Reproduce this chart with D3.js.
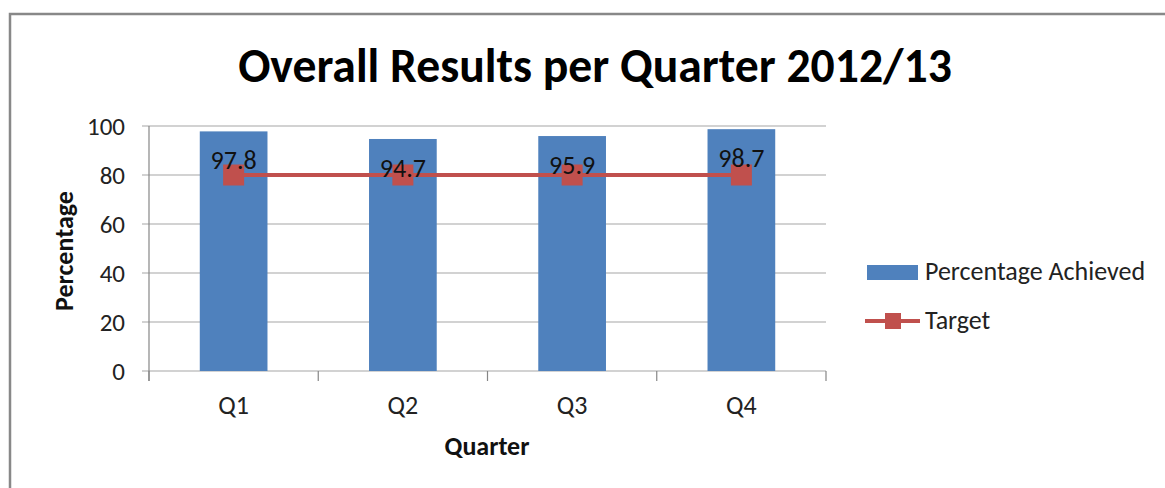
<!DOCTYPE html>
<html>
<head>
<meta charset="utf-8">
<script src="https://cdn.jsdelivr.net/npm/d3@7"></script>
<style>
  body { margin: 0; background: #fff; }
  text { font-family: Carlito, Calibri, "Open Sans", sans-serif; }
</style>
</head>
<body>
<div id="chart"></div>
<script>
var quarters = ["Q1", "Q2", "Q3", "Q4"];
var achieved = [97.8, 94.7, 95.9, 98.7];     // Percentage Achieved
var target = [80, 80, 80, 80];               // Target
var yTicks = [0, 20, 40, 60, 80, 100];

var width = 1165, height = 488;
var blue = "#4f81bd", red = "#c0504d";

var svg = d3.select("#chart").append("svg")
    .attr("width", width)
    .attr("height", height);

// outer chart frame (runs off the right / bottom edge)
svg.append("rect")
    .attr("x", 10).attr("y", 14)
    .attr("width", 1200).attr("height", 520)
    .attr("fill", "#fff")
    .attr("stroke", "#888")
    .attr("stroke-width", 2.5);

var x = d3.scaleBand()
    .domain(quarters)
    .range([149, 826])
    .paddingInner(0.6)
    .paddingOuter(0.3);

var y = d3.scaleLinear()
    .domain([0, 100])
    .range([371, 126]);

// gridlines + y ticks
svg.append("g").selectAll("line")
    .data(yTicks)
    .enter()
    .append("line")
    .attr("x1", 142).attr("x2", 826)
    .attr("y1", function(d) { return y(d); })
    .attr("y2", function(d) { return y(d); })
    .attr("stroke", "#a6a6a6")
    .attr("stroke-width", 1.2);

svg.append("g").selectAll("text")
    .data(yTicks)
    .enter()
    .append("text")
    .attr("x", 125)
    .attr("y", function(d) { return y(d); })
    .attr("dy", "0.34em")
    .attr("text-anchor", "end")
    .attr("font-size", 25)
    .attr("fill", "#222")
    .text(function(d) { return d; });

// y axis line
svg.append("line")
    .attr("x1", 149).attr("x2", 149)
    .attr("y1", y(100)).attr("y2", 381)
    .attr("stroke", "#868686").attr("stroke-width", 1.2);

// x axis category boundary ticks
var bounds = quarters.map(function(q) { return x(q) - x.step() * x.paddingInner() / 2; });
bounds.push(826);
svg.append("g").selectAll("line")
    .data(bounds)
    .enter()
    .append("line")
    .attr("x1", function(d) { return d; })
    .attr("x2", function(d) { return d; })
    .attr("y1", y(0)).attr("y2", 381)
    .attr("stroke", "#868686").attr("stroke-width", 1.2);

// bars
svg.append("g").selectAll("rect")
    .data(achieved)
    .enter()
    .append("rect")
    .attr("x", function(d, i) { return x(quarters[i]); })
    .attr("y", function(d) { return y(d); })
    .attr("width", x.bandwidth())
    .attr("height", function(d) { return y(0) - y(d); })
    .attr("fill", blue);

// target line + markers
var cx = function(i) { return x(quarters[i]) + x.bandwidth() / 2; };
var line = d3.line()
    .x(function(d, i) { return cx(i); })
    .y(function(d) { return y(d); });

svg.append("path")
    .datum(target)
    .attr("d", line)
    .attr("fill", "none")
    .attr("stroke", red)
    .attr("stroke-width", 4);

svg.append("g").selectAll("rect")
    .data(target)
    .enter()
    .append("rect")
    .attr("x", function(d, i) { return cx(i) - 10.5; })
    .attr("y", function(d) { return y(d) - 10.5; })
    .attr("width", 21).attr("height", 21)
    .attr("fill", red);

// data labels (drawn on top)
svg.append("g").selectAll("text")
    .data(achieved)
    .enter()
    .append("text")
    .attr("x", function(d, i) { return cx(i); })
    .attr("y", function(d) { return y(d) + 38; })
    .attr("text-anchor", "middle")
    .attr("font-size", 26)
    .attr("fill", "#111")
    .text(function(d) { return d.toFixed(1); });

// category labels
svg.append("g").selectAll("text")
    .data(quarters)
    .enter()
    .append("text")
    .attr("x", function(d) { return x(d) + x.bandwidth() / 2; })
    .attr("y", 414)
    .attr("text-anchor", "middle")
    .attr("font-size", 26)
    .attr("fill", "#222")
    .text(function(d) { return d; });

// title, fitted to the width seen in the picture
var title = svg.append("text")
    .attr("x", 595).attr("y", 82)
    .attr("text-anchor", "middle")
    .attr("font-size", 40)
    .attr("font-weight", "bold")
    .attr("fill", "#000")
    .text("Overall Results per Quarter 2012/13");
var tw = title.node().getComputedTextLength();
title.attr("font-size", Math.min(48, 40 * 714 / tw));

// axis titles
svg.append("text")
    .attr("transform", "translate(73,251) rotate(-90)")
    .attr("text-anchor", "middle")
    .attr("font-size", 26)
    .attr("font-weight", "bold")
    .attr("fill", "#111")
    .text("Percentage");

svg.append("text")
    .attr("x", 487).attr("y", 455)
    .attr("text-anchor", "middle")
    .attr("font-size", 26)
    .attr("font-weight", "bold")
    .attr("fill", "#111")
    .text("Quarter");

// legend
var legend = svg.append("g");
legend.append("rect")
    .attr("x", 867).attr("y", 265)
    .attr("width", 51).attr("height", 15)
    .attr("fill", blue);
legend.append("text")
    .attr("x", 925).attr("y", 280)
    .attr("font-size", 26)
    .attr("fill", "#222")
    .text("Percentage Achieved");

legend.append("line")
    .attr("x1", 865).attr("x2", 920)
    .attr("y1", 321).attr("y2", 321)
    .attr("stroke", red).attr("stroke-width", 4);
legend.append("rect")
    .attr("x", 885).attr("y", 313)
    .attr("width", 16).attr("height", 16)
    .attr("fill", red);
legend.append("text")
    .attr("x", 925).attr("y", 329)
    .attr("font-size", 26)
    .attr("fill", "#222")
    .text("Target");
</script>
</body>
</html>
